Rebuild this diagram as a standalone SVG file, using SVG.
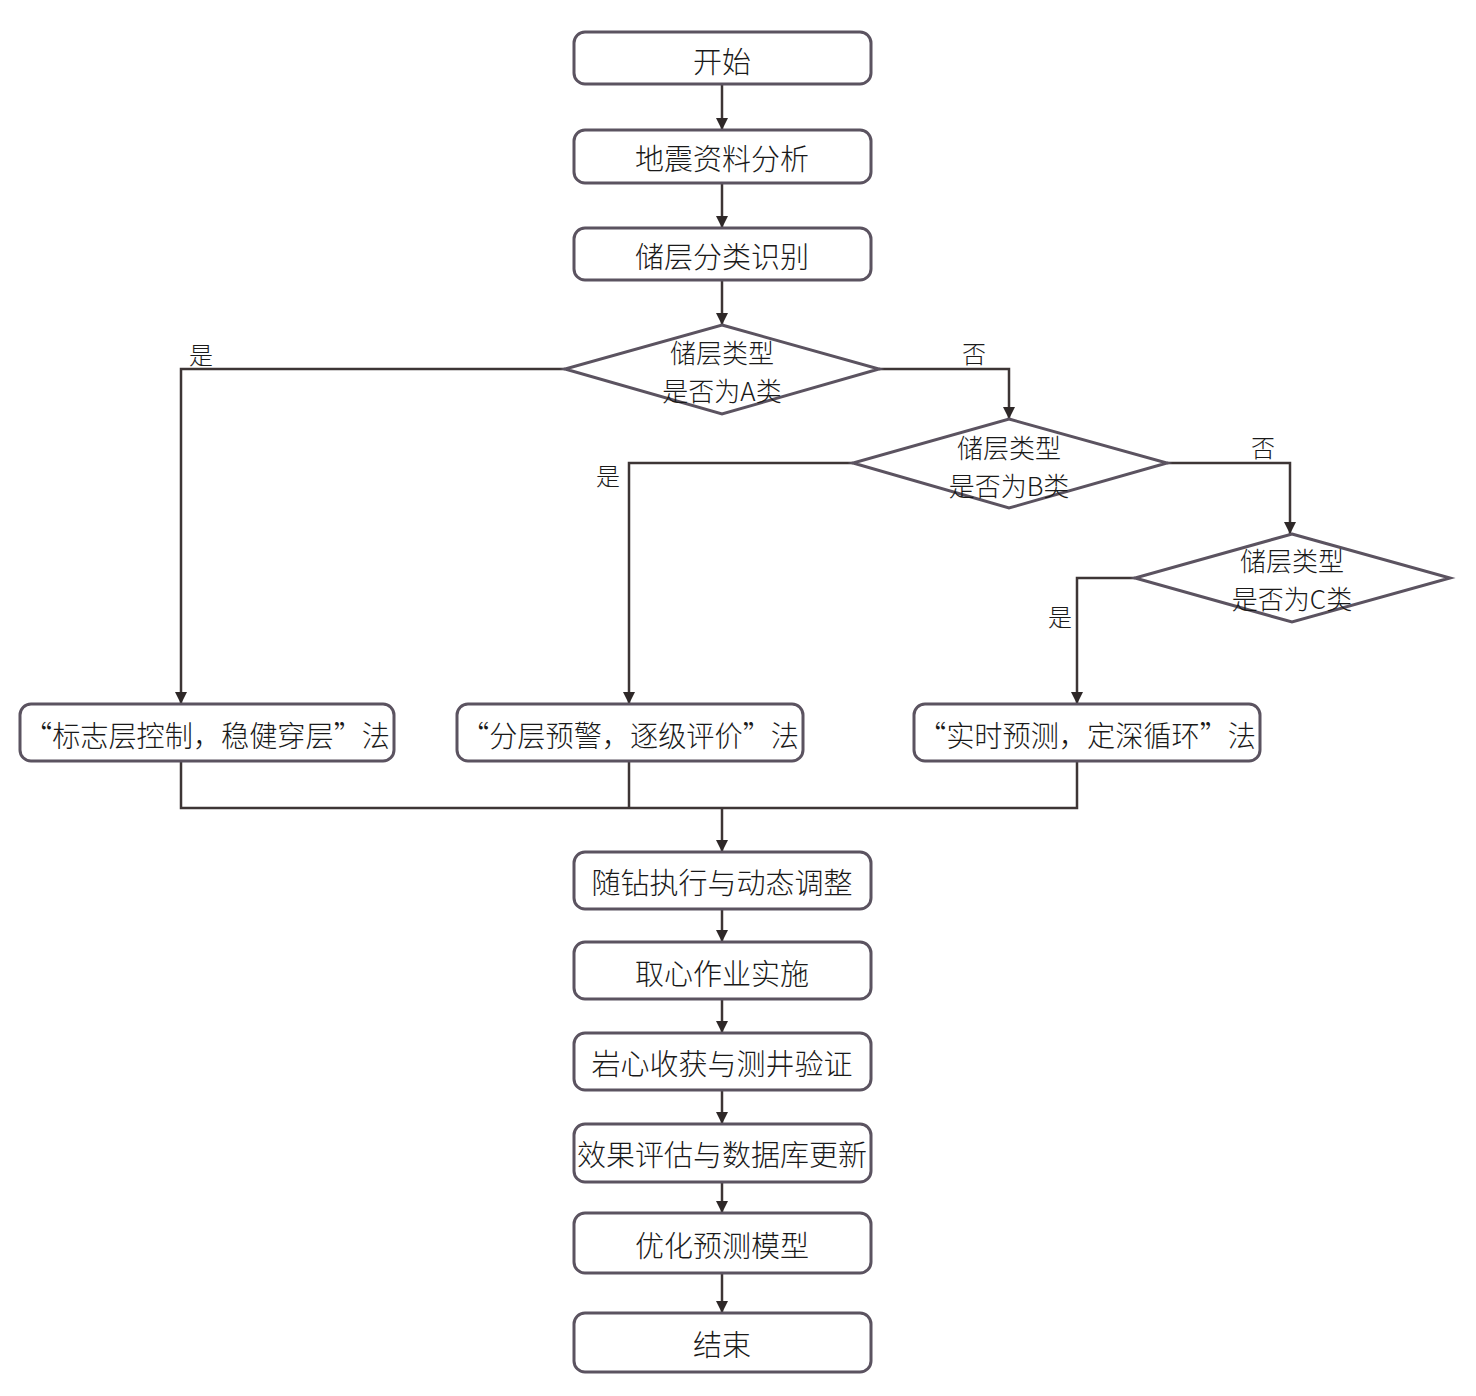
<svg xmlns="http://www.w3.org/2000/svg" width="1476" height="1396" viewBox="0 0 1476 1396">
<style>
.box{fill:#fff;stroke:#5b5360;stroke-width:3}
.dia{fill:#fff;stroke:#5b5360;stroke-width:3;stroke-linejoin:miter}
.t{font-family:"Noto Sans CJK SC","Liberation Serif",serif;font-size:29px;font-weight:300;fill:#1a1a1a;text-anchor:middle;dominant-baseline:central}
.d{font-family:"Noto Sans CJK SC","Liberation Serif",serif;font-size:26px;font-weight:300;fill:#1a1a1a;text-anchor:middle;dominant-baseline:central}
.lbl{font-family:"Noto Sans CJK SC","Liberation Serif",serif;font-size:24px;font-weight:300;fill:#1a1a1a;text-anchor:middle;dominant-baseline:central}
.c{fill:none;stroke:#3d3535;stroke-width:2.5}
</style>
<defs>
<marker id="ah" markerUnits="userSpaceOnUse" markerWidth="12" markerHeight="14" refX="12" refY="7" orient="auto">
<path d="M0,1 L12,7 L0,13 z" fill="#2e2828"/>
</marker>
</defs>
<rect width="1476" height="1396" fill="#fff"/>
<g id="connectors">
<path class="c" d="M722,84 V130" marker-end="url(#ah)"/>
<path class="c" d="M722,183 V228" marker-end="url(#ah)"/>
<path class="c" d="M722,280 V325" marker-end="url(#ah)"/>
<path class="c" d="M565,369 H181 V704" marker-end="url(#ah)"/>
<path class="c" d="M879,369 H1009 V419" marker-end="url(#ah)"/>
<path class="c" d="M853,463 H629 V704" marker-end="url(#ah)"/>
<path class="c" d="M1167,463 H1290 V534" marker-end="url(#ah)"/>
<path class="c" d="M1135,578 H1077 V704" marker-end="url(#ah)"/>
<path class="c" d="M181,761 V808 H1077 V761"/>
<path class="c" d="M629,761 V808"/>
<path class="c" d="M722,808 V852" marker-end="url(#ah)"/>
<path class="c" d="M722,909 V942" marker-end="url(#ah)"/>
<path class="c" d="M722,999 V1033" marker-end="url(#ah)"/>
<path class="c" d="M722,1090 V1124" marker-end="url(#ah)"/>
<path class="c" d="M722,1182 V1213" marker-end="url(#ah)"/>
<path class="c" d="M722,1273 V1313" marker-end="url(#ah)"/>
<text class="lbl" x="201" y="353">是</text>
<text class="lbl" x="974" y="352">否</text>
<text class="lbl" x="608" y="474">是</text>
<text class="lbl" x="1263" y="446">否</text>
<text class="lbl" x="1060" y="615">是</text>
</g>
<g id="start"><rect class="box" x="574" y="32" width="297" height="52" rx="11"/><text class="t" x="722" y="60">开始</text></g>
<g id="seismic"><rect class="box" x="574" y="130" width="297" height="53" rx="11"/><text class="t" x="722" y="157">地震资料分析</text></g>
<g id="classify"><rect class="box" x="574" y="228" width="297" height="52" rx="11"/><text class="t" x="722" y="255">储层分类识别</text></g>
<g id="decA"><path class="dia" d="M722,325 L879,369 L722,414 L565,369 Z"/><text class="d" x="722" y="351">储层类型</text><text class="d" x="722" y="389">是否为A类</text></g>
<g id="decB"><path class="dia" d="M1009,419 L1167,463 L1009,508 L853,463 Z"/><text class="d" x="1009" y="446">储层类型</text><text class="d" x="1009" y="484">是否为B类</text></g>
<g id="decC"><path class="dia" d="M1292,534 L1450,578 L1292,622 L1135,578 Z"/><text class="d" x="1292" y="559">储层类型</text><text class="d" x="1292" y="597">是否为C类</text></g>
<g id="methodA"><rect class="box" x="20" y="704" width="374" height="57" rx="11"/><text class="t" x="207" y="734" textLength="366" lengthAdjust="spacingAndGlyphs">“标志层控制，稳健穿层”法</text></g>
<g id="methodB"><rect class="box" x="457" y="704" width="346" height="57" rx="11"/><text class="t" x="630" y="734" textLength="338" lengthAdjust="spacingAndGlyphs">“分层预警，逐级评价”法</text></g>
<g id="methodC"><rect class="box" x="914" y="704" width="346" height="57" rx="11"/><text class="t" x="1087" y="734" textLength="338" lengthAdjust="spacingAndGlyphs">“实时预测，定深循环”法</text></g>
<g id="execute"><rect class="box" x="574" y="852" width="297" height="57" rx="11"/><text class="t" x="722" y="881">随钻执行与动态调整</text></g>
<g id="coring"><rect class="box" x="574" y="942" width="297" height="57" rx="11"/><text class="t" x="722" y="972">取心作业实施</text></g>
<g id="verify"><rect class="box" x="574" y="1033" width="297" height="57" rx="11"/><text class="t" x="722" y="1062">岩心收获与测井验证</text></g>
<g id="evaluate"><rect class="box" x="574" y="1124" width="297" height="58" rx="11"/><text class="t" x="722" y="1153" textLength="290" lengthAdjust="spacingAndGlyphs">效果评估与数据库更新</text></g>
<g id="optimize"><rect class="box" x="574" y="1213" width="297" height="60" rx="11"/><text class="t" x="722" y="1244">优化预测模型</text></g>
<g id="end"><rect class="box" x="574" y="1313" width="297" height="59" rx="11"/><text class="t" x="722" y="1343">结束</text></g>
</svg>
